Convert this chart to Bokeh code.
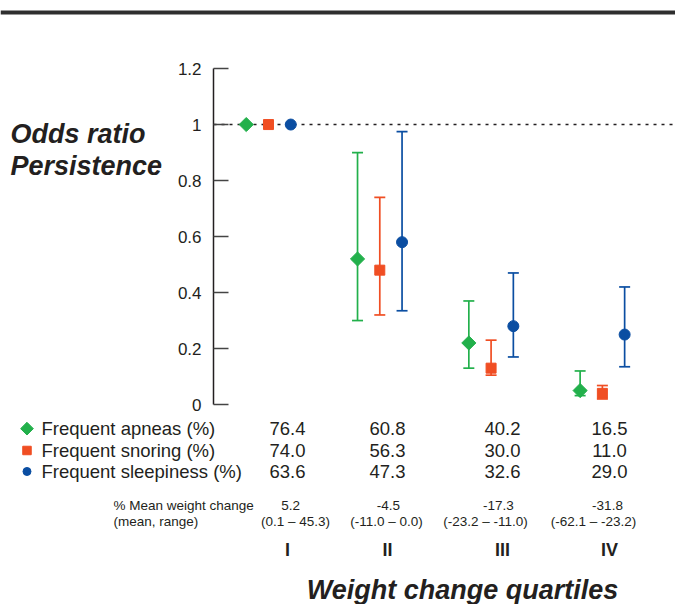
import math
from bokeh.plotting import figure
from bokeh.models import (ColumnDataSource, LinearAxis, FixedTicker, Whisker, TeeHead,
                          Span, Range1d, CustomJSTickFormatter)
from bokeh.core.properties import value
from bokeh.embed import file_html
from bokeh.resources import INLINE

nan = float("nan")

# ---------------- data ----------------
quartiles = ["I", "II", "III", "IV"]
apnea_or = [1.0, 0.52, 0.22, 0.05]
apnea_lo = [nan, 0.30, 0.13, 0.032]
apnea_hi = [nan, 0.90, 0.37, 0.12]
snoring_or = [1.0, 0.48, 0.13, 0.04]
snoring_lo = [nan, 0.32, 0.105, 0.02]
snoring_hi = [nan, 0.74, 0.23, 0.068]
sleep_or = [1.0, 0.58, 0.28, 0.25]
sleep_lo = [nan, 0.335, 0.17, 0.135]
sleep_hi = [nan, 0.975, 0.47, 0.42]
apnea_pct = [76.4, 60.8, 40.2, 16.5]
snoring_pct = [74.0, 56.3, 30.0, 11.0]
sleep_pct = [63.6, 47.3, 32.6, 29.0]
weight_mean = [5.2, -4.5, -17.3, -31.8]
weight_lo = [0.1, -11.0, -23.2, -62.1]
weight_hi = [45.3, 0.0, -11.0, -23.2]
series_names = ["Frequent apneas (%)", "Frequent snoring (%)", "Frequent sleepiness (%)"]
y_ticks = [0, 0.2, 0.4, 0.6, 0.8, 1.0, 1.2]
reference_or = 1.0

# ---------------- layout / style ----------------
W, H = 675, 604
X_START, X_END = -1.408, 4.657
Y_START, Y_END = -0.714, 1.443
AXIS_X = 0.506
GROUP_X = [1, 2, 3, 4]
OFFSETS = [-0.2, 0.0, 0.2]
COLORS = ["#22b04b", "#f04e23", "#0b4ea2"]
MARKERS = ["square", "square", "circle"]
ANGLES = [math.pi / 4, 0.0, 0.0]
SIZES = [10, 10, 11]
LEG_SIZES = [9, 8.5, 8]
TEXT = "#231f20"
FONT = value("Liberation Sans")

COL_X = [1.171, 2.069, 3.102, 4.064]
ROW_Y = [-0.086, -0.164, -0.239]
LEG_MARK_X = -1.17
LEG_TEXT_X = -1.04
MEAN_X = [1.198, 2.078, 3.066, 4.046]
RANGE_X = [1.243, 2.060, 2.950, 3.920]
WT_LABEL_X = -0.393
WT_Y = [-0.361, -0.418]
ROMAN_Y = -0.518
TOP_RULE_Y = 1.4

p = figure(width=W, height=H, x_range=Range1d(X_START, X_END), y_range=Range1d(Y_START, Y_END),
           x_axis_type=None, y_axis_type=None, toolbar_location=None, output_backend="svg",
           min_border=0, outline_line_color=None)
p.background_fill_color = "white"

yaxis = LinearAxis(fixed_location=AXIS_X, bounds=(0, 1.2),
                   ticker=FixedTicker(ticks=y_ticks, minor_ticks=[]),
                   formatter=CustomJSTickFormatter(code="return String(tick)"),
                   major_tick_in=15, major_tick_out=0, minor_tick_in=0, minor_tick_out=0,
                   major_label_standoff=12, axis_line_width=1.5, axis_line_color=TEXT,
                   major_tick_line_width=1.3, major_tick_line_color="#444444",
                   major_label_text_font_size="17px", major_label_text_font="Liberation Sans",
                   major_label_text_color=TEXT)
p.add_layout(yaxis, "left")

p.add_layout(Span(location=TOP_RULE_Y, dimension="width", line_color="#2e2e2e", line_width=4))

# reference line at OR = 1
p.segment(x0=[AXIS_X], y0=[reference_or], x1=[X_END], y1=[reference_or],
          line_dash="3 5", line_color=TEXT, line_width=1.5)

series = [(apnea_or, apnea_lo, apnea_hi), (snoring_or, snoring_lo, snoring_hi),
          (sleep_or, sleep_lo, sleep_hi)]
for k, (orv, lo, hi) in enumerate(series):
    c = COLORS[k]
    idx = [i for i in range(4) if not math.isnan(lo[i])]
    src = ColumnDataSource(dict(base=[GROUP_X[i] + OFFSETS[k] for i in idx],
                                lower=[lo[i] for i in idx], upper=[hi[i] for i in idx]))
    w = Whisker(source=src, base="base", lower="lower", upper="upper", dimension="height",
                line_color=c, line_width=1.7,
                upper_head=TeeHead(size=11, line_color=c, line_width=1.7),
                lower_head=TeeHead(size=11, line_color=c, line_width=1.7))
    p.add_layout(w)
    p.scatter(x=[g + OFFSETS[k] for g in GROUP_X], y=orv, marker=MARKERS[k], angle=ANGLES[k],
              size=SIZES[k], fill_color=c, line_color=c)
    # legend marker
    p.scatter(x=[LEG_MARK_X], y=[ROW_Y[k]], marker=MARKERS[k], angle=ANGLES[k],
              size=LEG_SIZES[k], fill_color=c, line_color=c)

# legend / table labels
p.text(x=[LEG_TEXT_X] * 3, y=ROW_Y, text=series_names, text_font=FONT, text_font_size="18.5px",
       text_align="left", text_baseline="middle", text_color=TEXT)
for k, pct in enumerate([apnea_pct, snoring_pct, sleep_pct]):
    p.text(x=COL_X, y=[ROW_Y[k]] * 4, text=[f"{v:.1f}" for v in pct], text_font=FONT,
           text_font_size="18.5px", text_align="center", text_baseline="middle", text_color=TEXT)

p.text(x=[WT_LABEL_X] * 2, y=WT_Y, text=["% Mean weight change", "(mean, range)"], text_font=FONT,
       text_font_size="13.5px", text_align="left", text_baseline="middle", text_color=TEXT)
p.text(x=MEAN_X, y=[WT_Y[0]] * 4, text=[f"{v:.1f}" for v in weight_mean], text_font=FONT,
       text_font_size="13.5px", text_align="center", text_baseline="middle", text_color=TEXT)
p.text(x=RANGE_X, y=[WT_Y[1]] * 4,
       text=[f"({a:.1f} \u2013 {b:.1f})" for a, b in zip(weight_lo, weight_hi)], text_font=FONT,
       text_font_size="13.5px", text_align="center", text_baseline="middle", text_color=TEXT)

p.text(x=COL_X, y=[ROMAN_Y] * 4, text=quartiles, text_font=FONT, text_font_size="18px",
       text_font_style="bold", text_align="center", text_baseline="middle", text_color=TEXT)

# titles
p.text(x=[-1.318, -1.318], y=[0.966, 0.852], text=["Odds ratio", "Persistence"], text_font=FONT,
       text_font_size="27px", text_font_style="bold italic", text_align="left",
       text_baseline="alphabetic", text_color=TEXT)
p.text(x=[2.743], y=[-0.662], text=["Weight change quartiles"], text_font=FONT,
       text_font_size="27px", text_font_style="bold italic", text_align="center",
       text_baseline="alphabetic", text_color=TEXT)

open("out.html", "w").write(file_html(p, INLINE))
